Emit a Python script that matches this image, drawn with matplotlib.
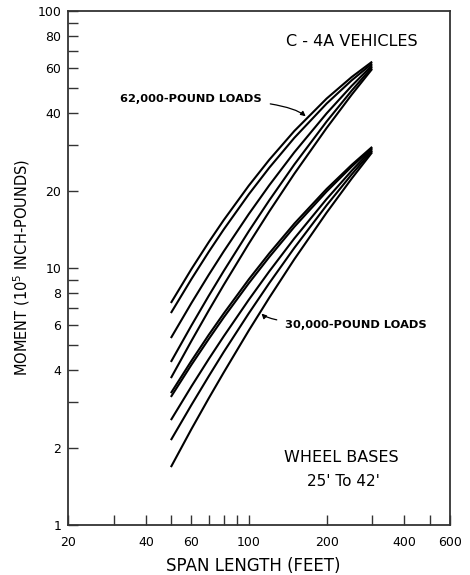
import matplotlib
matplotlib.use("Agg")
import matplotlib.pyplot as plt
import numpy as np
from matplotlib.ticker import FixedLocator, FixedFormatter, NullLocator

# Span lengths (feet) at which the moment curves are tabulated
span = [50, 60, 70, 80, 100, 120, 150, 200, 250, 300]

# 62,000-pound loads, one curve per wheel base (shortest wheel base first)
m62_1 = [7.31, 9.90, 12.60, 15.36, 20.91, 26.36, 34.12, 45.63, 55.34, 63.5]
m62_2 = [6.68, 9.05, 11.55, 14.12, 19.35, 24.55, 32.09, 43.63, 53.72, 62.5]
m62_3 = [5.34, 7.30, 9.40, 11.60, 16.21, 20.98, 28.19, 39.96, 51.12, 61.5]
m62_4 = [4.31, 5.97, 7.79, 9.73, 13.90, 18.33, 25.27, 37.15, 48.98, 60.5]
m62_5 = [3.73, 5.20, 6.83, 8.59, 12.43, 16.59, 23.26, 35.05, 47.25, 59.5]

# 30,000-pound loads
m30_1 = [3.26, 4.35, 5.49, 6.65, 9.03, 11.40, 14.88, 20.30, 25.19, 29.6]
m30_2 = [3.15, 4.20, 5.29, 6.42, 8.72, 11.03, 14.45, 19.84, 24.80, 29.3]
m30_3 = [2.56, 3.46, 4.42, 5.42, 7.52, 9.70, 13.03, 18.55, 23.90, 29.0]
m30_4 = [2.14, 2.93, 3.79, 4.71, 6.66, 8.73, 11.97, 17.54, 23.12, 28.6]
m30_5 = [1.68, 2.36, 3.11, 3.92, 5.71, 7.66, 10.81, 16.42, 22.28, 28.2]

# Axis ticks
x_ticks = [20, 30, 40, 50, 60, 70, 80, 90, 100, 200, 300, 400, 500, 600]
x_labels = ["20", "", "40", "", "60", "", "", "", "100", "200", "", "400", "", "600"]
y_ticks = [1, 2, 3, 4, 5, 6, 7, 8, 9, 10, 20, 30, 40, 50, 60, 70, 80, 90, 100]
y_labels = ["1", "2", "", "4", "", "6", "", "8", "", "10", "20", "", "40", "", "60", "", "80", "", "100"]

plt.rcParams["font.family"] = ["DejaVu Sans"]

W, H = 470, 575
fig = plt.figure(figsize=(W / 100, H / 100), dpi=100)
ax = fig.add_axes([68 / W, 1 - 525 / H, 382 / W, 514 / H])
ax.set_xscale("log")
ax.set_yscale("log")
ax.set_xlim(20, 600)
ax.set_ylim(1, 100)

for curve in (m62_1, m62_2, m62_3, m62_4, m62_5, m30_1, m30_2, m30_3, m30_4, m30_5):
    ax.plot(span, curve, color="black", lw=1.5, solid_capstyle="butt")

ax.xaxis.set_major_locator(FixedLocator(x_ticks))
ax.xaxis.set_major_formatter(FixedFormatter(x_labels))
ax.yaxis.set_major_locator(FixedLocator(y_ticks))
ax.yaxis.set_major_formatter(FixedFormatter(y_labels))
ax.xaxis.set_minor_locator(NullLocator())
ax.yaxis.set_minor_locator(NullLocator())
ax.tick_params(direction="in", length=7, width=1.0, labelsize=9, color="#333333")
ax.tick_params(axis="x", pad=8)
ax.tick_params(axis="y", pad=5)
for s in ax.spines.values():
    s.set_linewidth(1.3)
    s.set_color("#333333")

ax.set_xlabel("SPAN LENGTH (FEET)", fontsize=12)
ax.xaxis.set_label_coords(0.484, -0.062)
ax.set_ylabel("MOMENT (10$^5$ INCH-POUNDS)", fontsize=10.5, labelpad=3.5)

fig.text(352 / W, 1 - 42 / H, "C - 4A VEHICLES", fontsize=11.5, ha="center", va="center")
fig.text(341 / W, 1 - 458 / H, "WHEEL BASES", fontsize=11.5, ha="center", va="center")
fig.text(343 / W, 1 - 481 / H, "25' To 42'", fontsize=11, ha="center", va="center")

# Leader arrows pointing at the two families of curves
ls = np.log10(span)
tip62_x = 166
tip62_y = 10 ** np.interp(np.log10(tip62_x), ls, np.log10(m62_1)) * 1.03
ax.annotate("62,000-POUND LOADS", xy=(tip62_x, tip62_y), xycoords="data",
            xytext=(262 / W, 1 - 99 / H), textcoords="figure fraction",
            ha="right", va="center", fontsize=8.2, fontweight="bold",
            arrowprops=dict(arrowstyle="-|>", color="black", lw=0.9,
                            mutation_scale=7, shrinkA=4, shrinkB=0,
                            connectionstyle="angle3,angleA=0,angleB=-40"))

tip30_x = 112
tip30_y = 10 ** np.interp(np.log10(tip30_x), ls, np.log10(m30_5)) * 0.97
ax.annotate("30,000-POUND LOADS", xy=(tip30_x, tip30_y), xycoords="data",
            xytext=(285 / W, 1 - 325 / H), textcoords="figure fraction",
            ha="left", va="center", fontsize=8.2, fontweight="bold",
            arrowprops=dict(arrowstyle="-|>", color="black", lw=0.9,
                            mutation_scale=7, shrinkA=4, shrinkB=0,
                            connectionstyle="angle3,angleA=0,angleB=-45"))

fig.savefig("out.png", dpi=100)
